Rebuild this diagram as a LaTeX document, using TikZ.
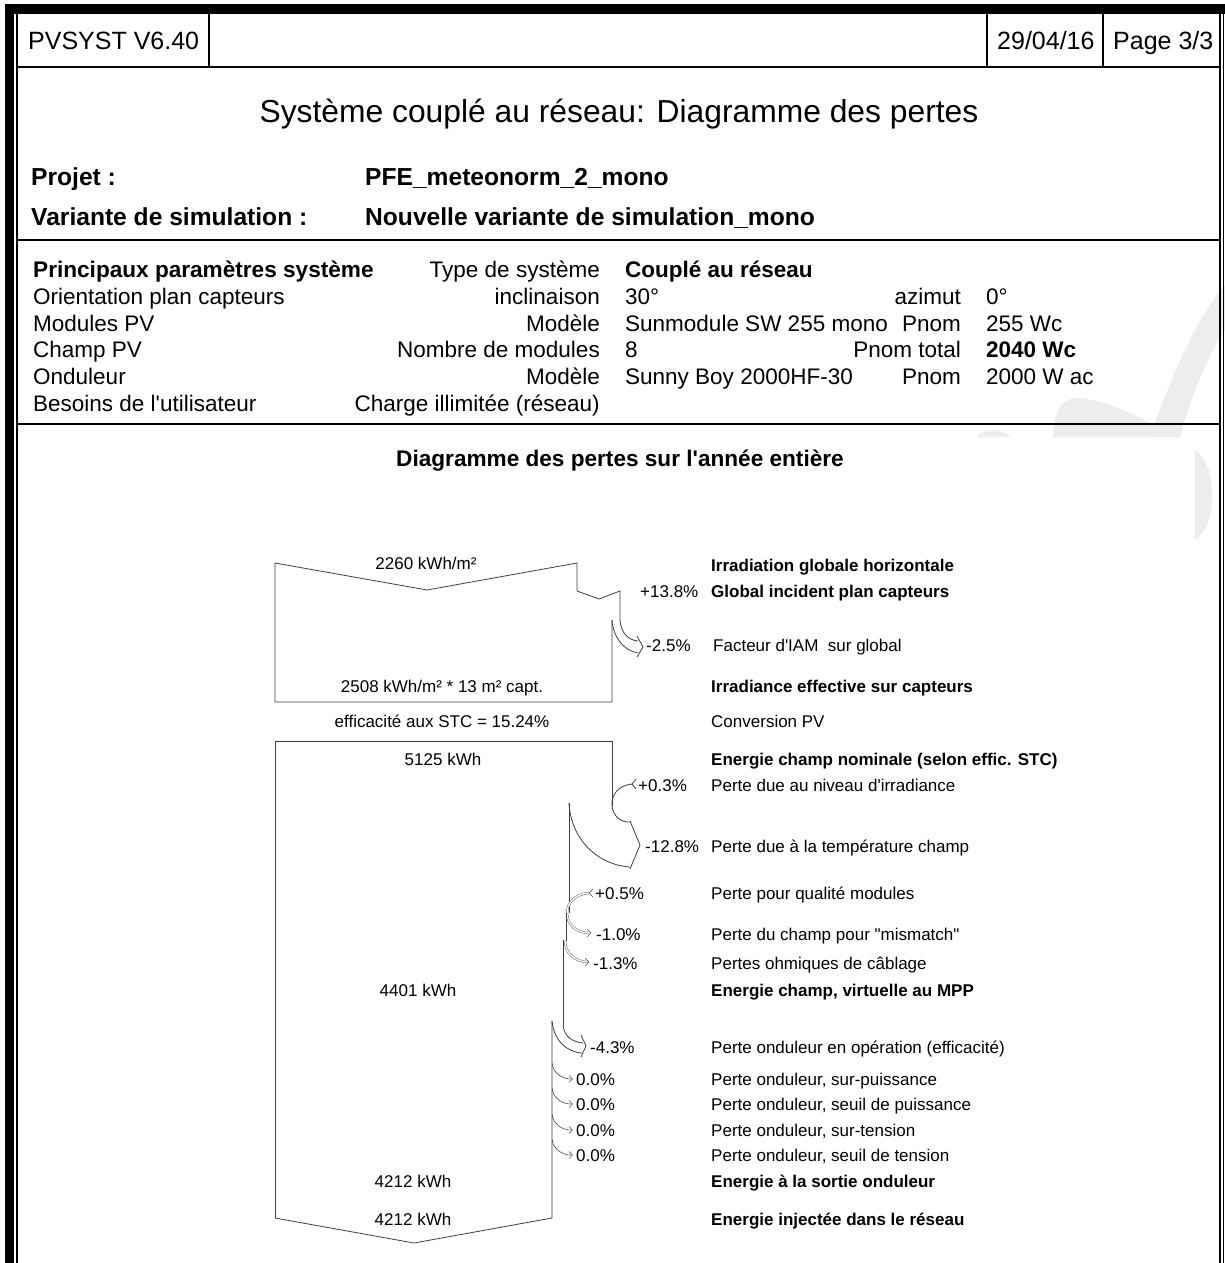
\documentclass[tikz,border=0pt]{standalone}
\usepackage{fontspec}
\setmainfont{Liberation Sans}[Ligatures=TeXOff]
\begin{document}
\begin{tikzpicture}[x=1pt,y=-1pt,
  t17/.style={font=\fontsize{17}{20}\selectfont, inner sep=0pt},
  t22/.style={font=\fontsize{22.5}{26}\selectfont, inner sep=0pt},
  t25/.style={font=\fontsize{25}{29}\selectfont, inner sep=0pt},
  lw/.style={anchor=base west},
  le/.style={anchor=base east},
  lc/.style={anchor=base},
  flow/.style={draw=black!75, line width=0.8pt},
  thinflow/.style={draw=black!70, line width=0.6pt},
  dbl/.style={draw=black!60, line width=0.5pt, double=white, double distance=1.3pt},
  frameline/.style={line width=1.5pt},
  wmark/.style={fill=black!7, draw=none}]
\useasboundingbox (0,0) rectangle (1225,1263);
\fill[white] (0,0) rectangle (1225,1263);

% watermark (faint logo pieces)
\fill[wmark] (1150,437) .. controls (1170,380) and (1195,320) .. (1225,285) -- (1225,330) .. controls (1205,360) and (1190,400) .. (1180,437) -- cycle;
\fill[wmark] (1053,437) .. controls (1053,415) and (1060,400) .. (1075,398) .. controls (1100,398) and (1140,415) .. (1173,437) -- cycle;
\fill[wmark] (977,437) .. controls (980,428) and (1005,428) .. (1010,437) -- cycle;
\fill[wmark] (1195,450) .. controls (1218,465) and (1218,525) .. (1195,540) -- cycle;

% page frame
\fill[black] (5,4) rectangle (1225,14);
\fill[black] (5,4) rectangle (14,1263);
\draw[frameline] (17,14) -- (17,1263);
\draw[frameline] (1220,14) -- (1220,1263);
\draw[line width=1pt] (1223.5,14) -- (1223.5,1263);
\draw[frameline] (17,67) -- (1220,67);
\draw[frameline] (209,14) -- (209,67);
\draw[frameline] (987,14) -- (987,67);
\draw[frameline] (1103,14) -- (1103,67);
\draw[frameline] (17,240) -- (1220,240);
\draw[frameline] (17,424) -- (1220,424);

% header
\node[t25,lw] (ver) at (28,49) {PVSYST V6.40};
\node[t25,lw] (date) at (997,49) {29/04/16};
\node[t25,lw] (page) at (1113,49) {Page 3/3};
\node[font=\fontsize{31.8}{38}\selectfont, inner sep=0pt, lc] (title) at (619,122) {Système couplé au réseau: Diagramme des pertes};
\node[t25,lw,font=\fontsize{24.6}{29}\selectfont\bfseries] (projl) at (31,185) {Projet :};
\node[t25,lw,font=\fontsize{24.6}{29}\selectfont\bfseries] (projv) at (365,185) {PFE\_meteonorm\_2\_mono};
\node[t25,lw,font=\fontsize{24.6}{29}\selectfont\bfseries] (varl) at (31,225) {Variante de simulation :};
\node[t25,lw,font=\fontsize{24.6}{29}\selectfont\bfseries] (varv) at (365,225) {Nouvelle variante de simulation\_mono};

% parameters
\node[t22,lw,font=\fontsize{22.6}{26}\selectfont\bfseries] (p1a) at (33,277) {Principaux paramètres système};
\node[t22,le] (p1b) at (600,277) {Type de système};
\node[t22,lw,font=\fontsize{22.5}{26}\selectfont\bfseries] (p1c) at (625,277) {Couplé au réseau};
\node[t22,lw] (p2a) at (33,304) {Orientation plan capteurs};
\node[t22,le] (p2b) at (600,304) {inclinaison};
\node[t22,lw] (p2c) at (625,304) {30°};
\node[t22,le] (p2d) at (961,304) {azimut};
\node[t22,lw] (p2e) at (986,304) {0°};
\node[t22,lw] (p3a) at (33,331) {Modules PV};
\node[t22,le] (p3b) at (600,331) {Modèle};
\node[t22,lw] (p3c) at (625,331) {Sunmodule SW 255 mono};
\node[t22,le] (p3d) at (961,331) {Pnom};
\node[t22,lw] (p3e) at (986,331) {255 Wc};
\node[t22,lw] (p4a) at (33,357) {Champ PV};
\node[t22,le] (p4b) at (600,357) {Nombre de modules};
\node[t22,lw] (p4c) at (625,357) {8};
\node[t22,le] (p4d) at (961,357) {Pnom total};
\node[t22,lw,font=\fontsize{22.5}{26}\selectfont\bfseries] (p4e) at (986,357) {2040 Wc};
\node[t22,lw] (p5a) at (33,384) {Onduleur};
\node[t22,le] (p5b) at (600,384) {Modèle};
\node[t22,lw] (p5c) at (625,384) {Sunny Boy 2000HF-30};
\node[t22,le] (p5d) at (961,384) {Pnom};
\node[t22,lw] (p5e) at (986,384) {2000 W ac};
\node[t22,lw] (p6a) at (33,411) {Besoins de l'utilisateur};
\node[t22,le] (p6b) at (600,411) {Charge illimitée (réseau)};

\node[t22,lc,font=\fontsize{22.6}{26}\selectfont\bfseries] (dtitle) at (620,466) {Diagramme des pertes sur l'année entière};

% ---- loss diagram: block 1 ----
\draw[flow] (612,620) -- (612,702) -- (275,702) -- (275,563) -- (427,590) -- (577,563) -- (577,591) -- (599,599) -- (620,591) -- (620,620)
  .. controls (621,633) and (628,640) .. (638,641);
\draw[flow] (612,620) .. controls (613,637) and (624,651) .. (638,653);
\draw[flow] (637,636) -- (643,647) -- (637,657);

% ---- block 2 ----
\draw[flow] (275,1218) -- (275,741) -- (612,741) -- (612,806);
% +0.3% gain
\draw[flow] (633,784) .. controls (618,785) and (611,795) .. (612,806) .. controls (613,816) and (621,823) .. (631,822);
\draw[flow] (636,779) -- (632,784) -- (636,789);
% -12.8% loss
\draw[flow] (630,821) -- (640,845) -- (630,869);
\draw[flow] (569,803) .. controls (571,840) and (598,865) .. (630,867);
\draw[flow] (569,803) -- (569,913);
% +0.5% gain and -1.0% loss
\draw[dbl] (589,893) .. controls (575,894) and (567,903) .. (567,913) .. controls (567,925) and (577,933) .. (589,933);
\draw[thinflow] (593,889) -- (589,893) -- (593,897);
\draw[thinflow] (587,929) -- (591,933) -- (587,937);
\draw[flow] (566,913) -- (566,941);
% -1.3% loss
\draw[dbl] (565,941) .. controls (565,953) and (575,962) .. (588,962);
\draw[thinflow] (585,958) -- (589,962) -- (585,966);
\draw[flow] (563,940) -- (563,1025);
% -4.3% loss
\draw[flow] (563,1025) .. controls (564,1036) and (572,1042) .. (583,1043);
\draw[flow] (552,1021) .. controls (554,1040) and (566,1052) .. (582,1053);
\draw[flow] (581,1035) -- (586,1046) -- (581,1057);
\draw[flow] (552,1021) -- (552,1218) -- (414,1243) -- (275,1218);
% 0.0% losses
\foreach \yy in {1079,1104,1130,1155}{
  \draw[thinflow] (552,\yy-16) .. controls (553,\yy-6) and (562,\yy) .. (571,\yy);
  \draw[thinflow] (569,\yy-3.5) -- (572.5,\yy) -- (569,\yy+3.5);
}

% values inside
\node[t17,lc] (v1) at (426,569) {2260 kWh/m²};
\node[t17,lc] (v2) at (442,692) {2508 kWh/m² * 13 m² capt.};
\node[t17,lc] (v3) at (442,727) {efficacité aux STC = 15.24\%};
\node[t17,lc] (v4) at (443,765) {5125 kWh};
\node[t17,lc] (v5) at (418,996) {4401 kWh};
\node[t17,lc] (v6) at (413,1187) {4212 kWh};
\node[t17,lc] (v7) at (413,1225) {4212 kWh};

% percentages
\node[t17,lw] (q1) at (640,597) {+13.8\%};
\node[t17,lw] (q2) at (646,651) {-2.5\%};
\node[t17,lw] (q3) at (638,791) {+0.3\%};
\node[t17,lw] (q4) at (645,852) {-12.8\%};
\node[t17,lw] (q5) at (595,899) {+0.5\%};
\node[t17,lw] (q6) at (596,940) {-1.0\%};
\node[t17,lw] (q7) at (593,969) {-1.3\%};
\node[t17,lw] (q8) at (590,1053) {-4.3\%};
\node[t17,lw] (q9) at (576,1085) {0.0\%};
\node[t17,lw] (q10) at (576,1110) {0.0\%};
\node[t17,lw] (q11) at (576,1136) {0.0\%};
\node[t17,lw] (q12) at (576,1161) {0.0\%};

% descriptions
\node[t17,lw,font=\fontsize{17}{20}\selectfont\bfseries] (d1) at (711,571) {Irradiation globale horizontale};
\node[t17,lw,font=\fontsize{17}{20}\selectfont\bfseries] (d2) at (711,597) {Global incident plan capteurs};
\node[t17,lw] (d3) at (713,651) {Facteur d'IAM\ \ sur global};
\node[t17,lw,font=\fontsize{17}{20}\selectfont\bfseries] (d4) at (711,692) {Irradiance effective sur capteurs};
\node[t17,lw] (d5) at (711,727) {Conversion PV};
\node[t17,lw,font=\fontsize{17}{20}\selectfont\bfseries] (d6) at (711,765) {Energie champ nominale (selon effic. STC)};
\node[t17,lw] (d7) at (711,791) {Perte due au niveau d'irradiance};
\node[t17,lw] (d8) at (711,852) {Perte due à la température champ};
\node[t17,lw] (d9) at (711,899) {Perte pour qualité modules};
\node[t17,lw] (d10) at (711,940) {Perte du champ pour "mismatch"};
\node[t17,lw] (d11) at (711,969) {Pertes ohmiques de câblage};
\node[t17,lw,font=\fontsize{17}{20}\selectfont\bfseries] (d12) at (711,996) {Energie champ, virtuelle au MPP};
\node[t17,lw] (d13) at (711,1053) {Perte onduleur en opération (efficacité)};
\node[t17,lw] (d14) at (711,1085) {Perte onduleur, sur-puissance};
\node[t17,lw] (d15) at (711,1110) {Perte onduleur, seuil de puissance};
\node[t17,lw] (d16) at (711,1136) {Perte onduleur, sur-tension};
\node[t17,lw] (d17) at (711,1161) {Perte onduleur, seuil de tension};
\node[t17,lw,font=\fontsize{17}{20}\selectfont\bfseries] (d18) at (711,1187) {Energie à la sortie onduleur};
\node[t17,lw,font=\fontsize{17}{20}\selectfont\bfseries] (d19) at (711,1225) {Energie injectée dans le réseau};
\end{tikzpicture}
\end{document}
